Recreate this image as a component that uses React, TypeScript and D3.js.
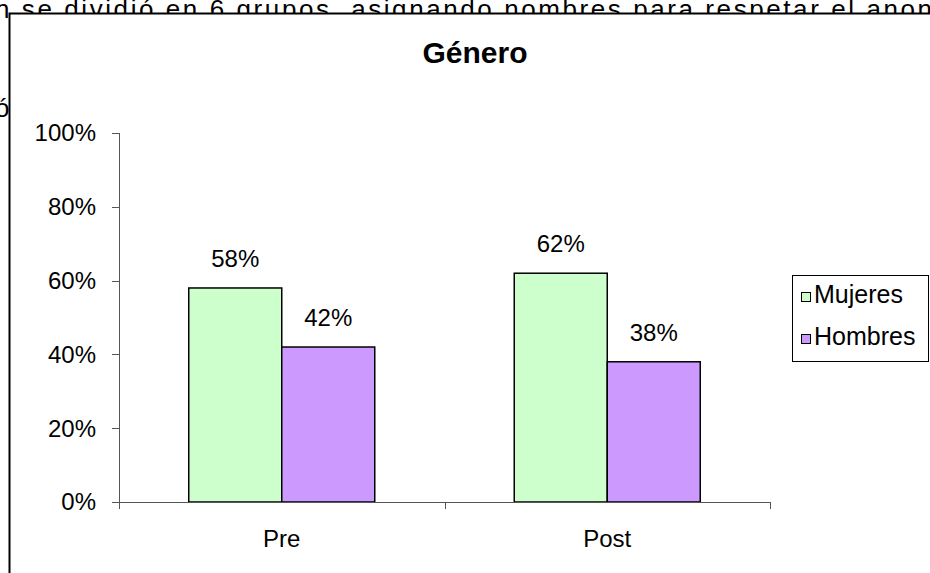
import React from 'react';
import * as d3 from 'd3';

const categories = ['Pre', 'Post'];
const series = ['Mujeres', 'Hombres'];
const mujeres = [0.58, 0.62];
const hombres = [0.42, 0.38];
const yTicks = [0, 0.2, 0.4, 0.6, 0.8, 1];

const colors: Record<string, string> = { Mujeres: '#CCFFCC', Hombres: '#CC99FF' };
const values: Record<string, number[]> = { Mujeres: mujeres, Hombres: hombres };

const font = 'Arial, "Liberation Sans", sans-serif';

const App: React.FC = () => {
    const width = 930;
    const height = 573;

    const x = d3.scaleBand<string>().domain(categories).range([119, 770]);
    const x1 = d3.scaleBand<string>().domain(series).range([0, x.bandwidth()]).paddingOuter(0.75);
    const y = d3.scaleLinear().domain([0, 1]).range([502, 133]);
    const pct = d3.format('.0%');

    return (
        <svg width={width} height={height} style={{ position: 'absolute', left: 0, top: 0 }} fontFamily={font}>
            {/* document text behind the chart frame */}
            <text x={-5} y={18} fontSize={26} textLength={937} lengthAdjust="spacing" fill="#000">n se dividió en 6 grupos, asignando nombres para respetar el anon</text>
            <text x={-5} y={117} fontSize={26} fill="#000">ó</text>

            <rect x={9.5} y={13.5} width={1000} height={700} fill="#fff" stroke="#000" strokeWidth={2} />

            <text x={475} y={63} textAnchor="middle" fontSize={30} fontWeight="bold">Género</text>

            {/* y axis */}
            <line x1={119.5} x2={119.5} y1={y(1)} y2={y(0) + 7} stroke="#555" />
            {yTicks.map(t => (
                <g key={t}>
                    <line x1={112} x2={119.5} y1={Math.round(y(t)) + 0.5} y2={Math.round(y(t)) + 0.5} stroke="#555" />
                    <text x={96} y={y(t)} dy="0.35em" textAnchor="end" fontSize={24}>{pct(t)}</text>
                </g>
            ))}

            {/* bars */}
            {categories.map((c, i) => (
                <g key={c}>
                    {series.map(s => {
                        const v = values[s][i];
                        const bx = (x(c) ?? 0) + (x1(s) ?? 0);
                        return (
                            <g key={s}>
                                <rect x={bx} y={y(v)} width={x1.bandwidth()} height={y(0) - y(v)}
                                    fill={colors[s]} stroke="#000" strokeWidth={1.5} />
                                <text x={bx + x1.bandwidth() / 2} y={y(v) - 21} textAnchor="middle" fontSize={24}>{pct(v)}</text>
                            </g>
                        );
                    })}
                </g>
            ))}

            {/* x axis */}
            <line x1={112} x2={770.5} y1={502.5} y2={502.5} stroke="#555" />
            {[...categories.map(c => x(c) ?? 0), 770].map((t, i) => (
                <line key={i} x1={Math.round(t) + 0.5} x2={Math.round(t) + 0.5} y1={502} y2={509} stroke="#555" />
            ))}
            {categories.map(c => (
                <text key={c} x={(x(c) ?? 0) + x.bandwidth() / 2} y={547} textAnchor="middle" fontSize={24}>{c}</text>
            ))}

            {/* legend */}
            <rect x={792.5} y={275.5} width={136} height={86} fill="#fff" stroke="#000" />
            {series.map((s, i) => (
                <g key={s} transform={`translate(801, ${292 + i * 42})`}>
                    <rect x={0.5} y={0.5} width={9} height={9} fill={colors[s]} stroke="#000" />
                    <text x={13} y={11} fontSize={25}>{s}</text>
                </g>
            ))}
        </svg>
    );
};

export default App;
